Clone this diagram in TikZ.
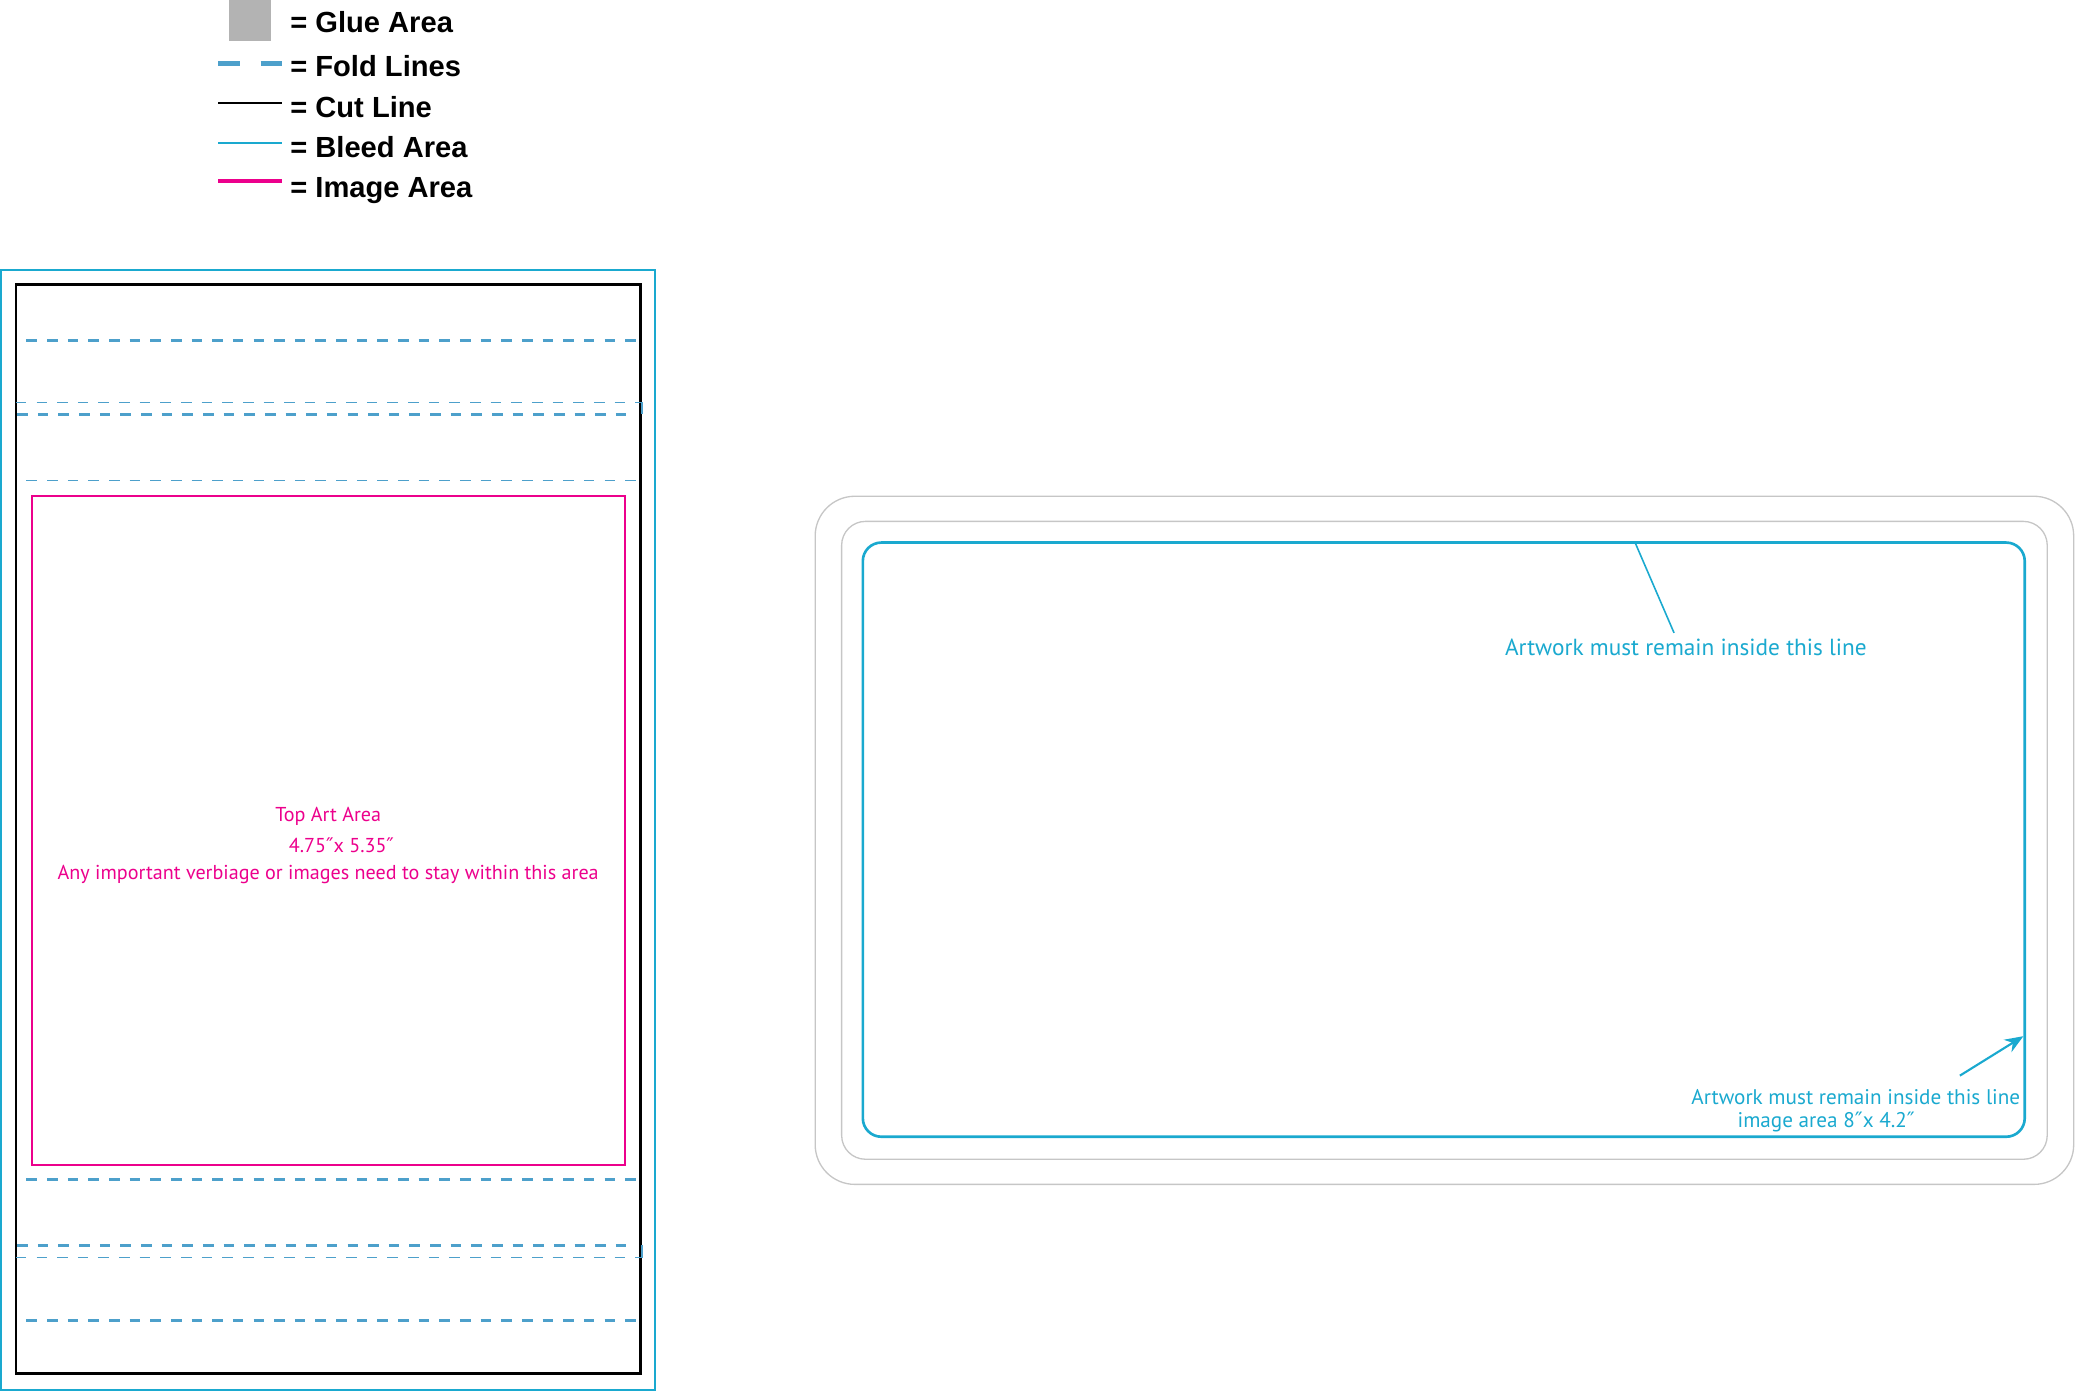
\documentclass[tikz,border=0pt]{standalone}
\usepackage{fontspec}
\setmainfont{PT Sans}
\newfontfamily\legendfont{Liberation Sans}
\newfontfamily\primefont{DejaVu Sans}
\newcommand{\inch}{{\primefont ″}}
\usetikzlibrary{arrows.meta}
\definecolor{foldblue}{HTML}{4DA0CB}
\definecolor{bleedcyan}{HTML}{1AA9CF}
\definecolor{imgpink}{HTML}{EC008C}
\definecolor{trimgrey}{HTML}{C6C6C6}
\definecolor{gluegrey}{HTML}{B3B3B3}
\tikzset{
  legtext/.style={anchor=west,inner sep=0pt,font=\legendfont\bfseries\fontsize{11}{13}\selectfont},
  foldthick/.style={foldblue,line width=1.1pt,dash pattern=on 4pt off 3.8pt},
  foldthin/.style={foldblue,line width=0.5pt,dash pattern=on 4pt off 3.8pt},
  pinktext/.style={imgpink,inner sep=0pt,font=\fontsize{7.6}{9}\selectfont},
  cyantext/.style={bleedcyan,inner sep=0pt,font=\fontsize{8.8}{10}\selectfont},
  smallcyan/.style={bleedcyan,inner sep=0pt,font=\fontsize{8}{10}\selectfont},
}
\begin{document}
\begin{tikzpicture}[x=0.5pt,y=-0.5pt]
	\useasboundingbox (0,0) rectangle (1568,1052);
	% legend
	\fill[gluegrey] (173,0) rectangle (205,31);
	\draw[foldblue,line width=1.6pt] (165,48)--(181,48) (197,48)--(213,48);
	\draw[black,line width=0.7pt] (165,78)--(213,78);
	\draw[bleedcyan,line width=0.6pt] (165,108)--(213,108);
	\draw[imgpink,line width=1.5pt] (165,137)--(213,137);
	\foreach \y/\txt in {17/Glue Area,50/Fold Lines,81/Cut Line,111/Bleed Area,144/Image Area}
		\node[legtext] (leg\y) at (219,\y) {= \txt};
	% left panel
	\draw[bleedcyan,line width=0.75pt] (1,204) rectangle (495,1050);
	\draw[black,line width=1pt] (12,215) rectangle (484,1038);
	\foreach \y in {257,891,998} \draw[foldthick] (20,\y)--(484,\y);
	\foreach \y in {313,941} \draw[foldthick] (13,\y)--(480,\y);
	\foreach \y in {304,950} \draw[foldthin] (12,\y)--(486,\y);
	\draw[foldthin] (20,363)--(484,363);
	\draw[foldblue,line width=0.8pt] (485,304)--(485,313) (485,941)--(485,950);
	\draw[imgpink,line width=0.75pt] (24,375) rectangle (472,880);
	\node[pinktext] (topart) at (248,617) {Top Art Area};
	\node[pinktext] (artsize) at (258,639) {4.75\inch x 5.35\inch};
	\node[pinktext] (artnote) at (248,661) {Any important verbiage or images need to stay within this area};
	% right panel
	\draw[trimgrey,line width=0.5pt,rounded corners=15pt] (616,375) rectangle (1567,895);
	\draw[trimgrey,line width=0.5pt,rounded corners=9pt] (636,394) rectangle (1547,876);
	\draw[bleedcyan,line width=1pt,rounded corners=7pt] (652,410) rectangle (1530,859);
	\node[cyantext] (toptxt) at (1274,489) {Artwork must remain inside this line};
	\coordinate (toplead) at (1236,411);
	\draw[bleedcyan,line width=0.6pt] (toplead) -- ([xshift=-4.5pt,yshift=2pt]toptxt.north);
	\node[smallcyan,anchor=east] (bottxt) at (1527,829) {Artwork must remain inside this line};
	\node[smallcyan] (imgsize) at (1380,848) {image area 8\inch x 4.2\inch};
	\coordinate (bottip) at (1529,783);
	\draw[bleedcyan,line width=0.8pt,-{Stealth[length=7pt,width=5.5pt]}] ([xshift=-23pt,yshift=5pt]bottxt.north east) -- (bottip);
\end{tikzpicture}
\end{document}
